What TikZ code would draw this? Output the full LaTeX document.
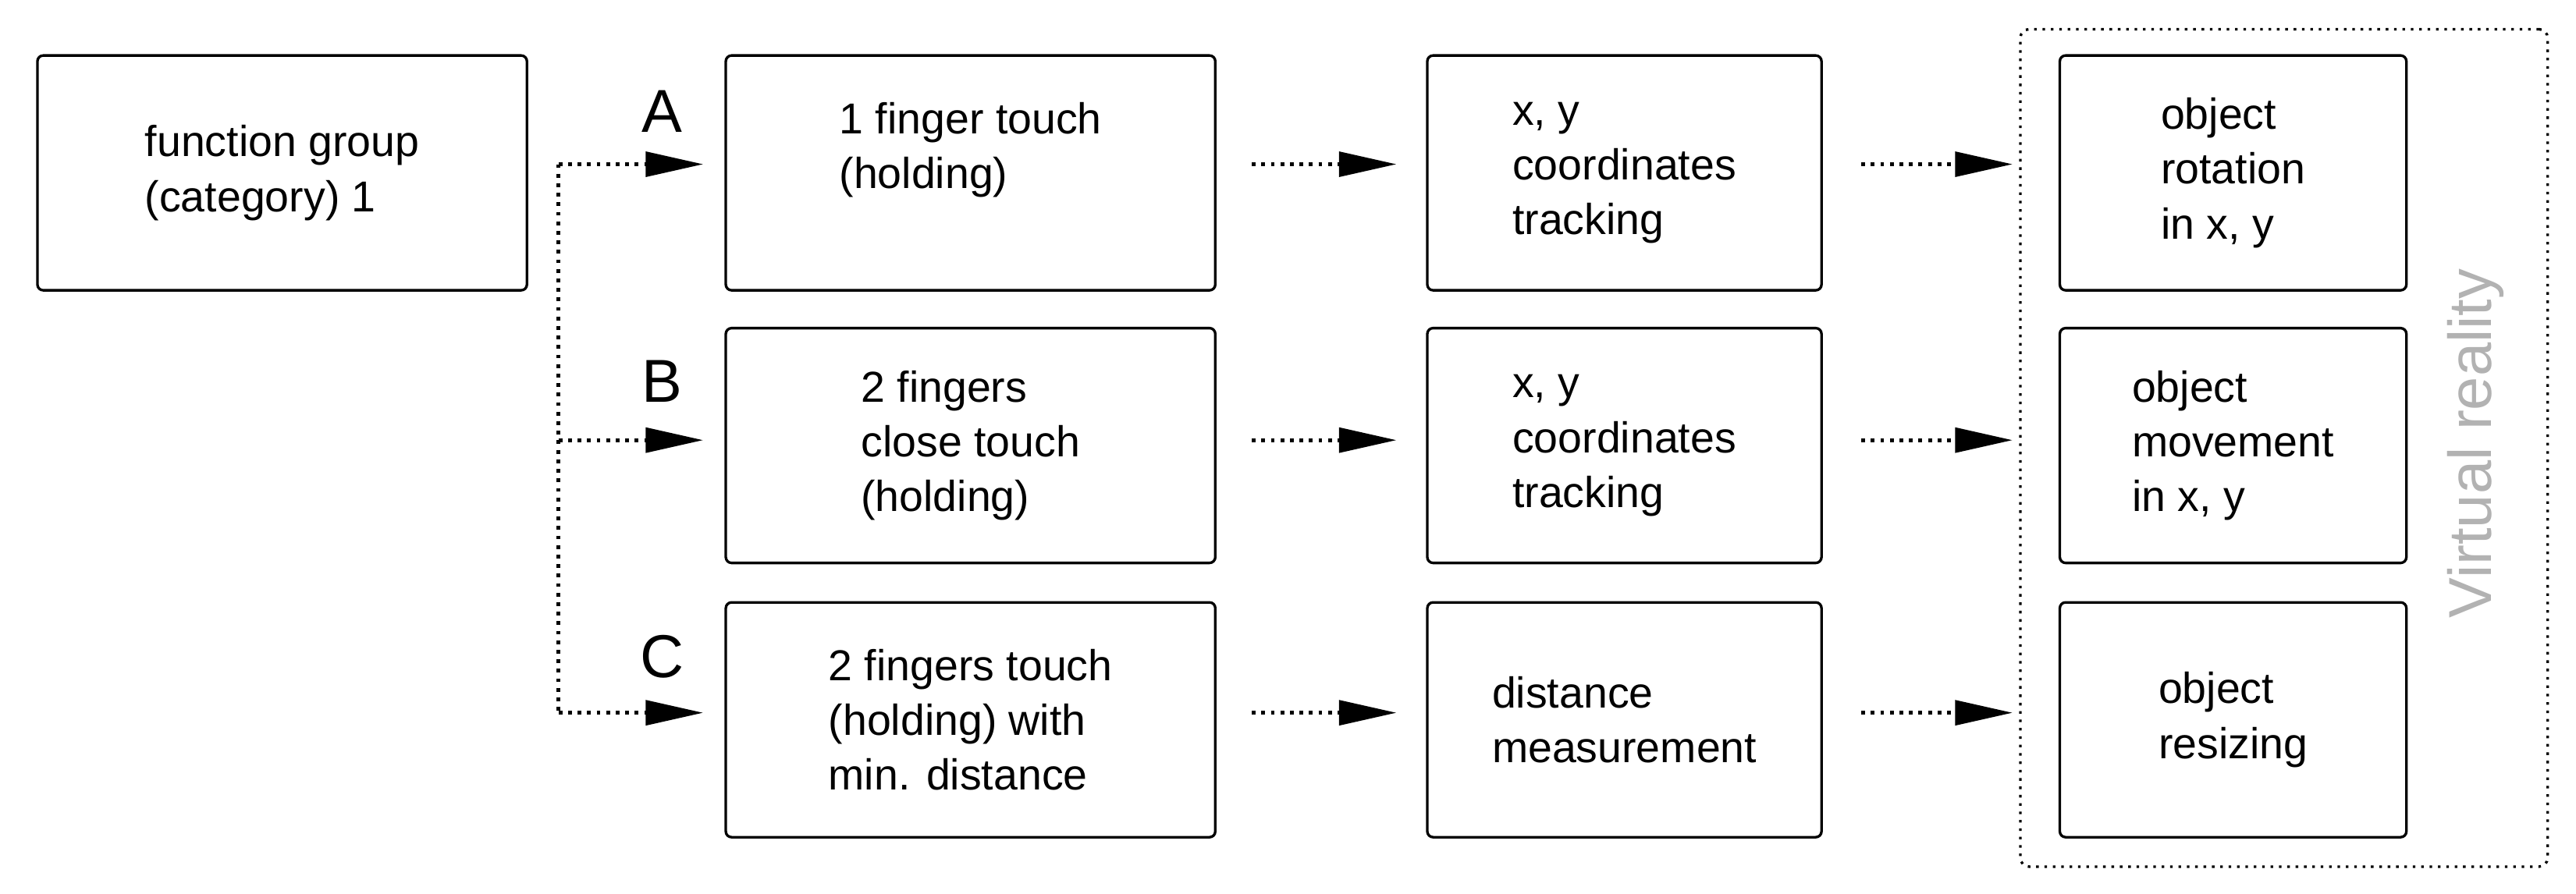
\documentclass[tikz,border=0pt]{standalone}
\usepackage{fontspec}
\setmainfont{Liberation Sans}
\usetikzlibrary{arrows.meta}
\begin{document}
\begin{tikzpicture}[x=0.02cm,y=-0.02cm,
  box/.style={draw,rounded corners=2pt,line width=0.9pt,font=\fontsize{15}{19}\selectfont,align=left,anchor=north west},
  conn/.style={line width=1.3pt,dotted,-{Triangle[length=0.7cm,width=0.3cm]},shorten >=0pt},
  lt/.style={font=\fontsize{21}{21}\selectfont}]
\useasboundingbox (0,0) rectangle (1568,544);
\node[box,minimum width=298\pgflinewidth*0+5.96cm,minimum height=2.86cm] (fg) at (22,33) {function group\\(category) 1};
\foreach \n/\y in {r1/33,r2/199,r3/366}{
  \node[box,minimum width=5.96cm,minimum height=2.86cm] (a\n) at (441,\y) {};
  \node[box,minimum width=4.8cm,minimum height=2.86cm] (b\n) at (868,\y) {};
  \node[box,minimum width=4.22cm,minimum height=2.86cm] (c\n) at (1253,\y) {};
}
\node[font=\fontsize{15}{19}\selectfont,align=left] at (ar1) {1 finger touch\\(holding)\\~};
\node[font=\fontsize{15}{19}\selectfont,align=left] at (ar2) {2 fingers\\close touch\\(holding)};
\node[font=\fontsize{15}{19}\selectfont,align=left] at (ar3) {2 fingers touch\\(holding) with\\min. distance};
\node[font=\fontsize{15}{19}\selectfont,align=left] at (br1) {x, y\\coordinates\\tracking};
\node[font=\fontsize{15}{19}\selectfont,align=left] at (br2) {x, y\\coordinates\\tracking};
\node[font=\fontsize{15}{19}\selectfont,align=left] at (br3) {distance\\measurement};
\node[font=\fontsize{15}{19}\selectfont,align=left] at (cr1) {object\\rotation\\in x, y};
\node[font=\fontsize{15}{19}\selectfont,align=left] at (cr2) {object\\movement\\in x, y};
\node[font=\fontsize{15}{19}\selectfont,align=left] at (cr3) {object\\resizing};
\node[draw,dotted,line width=0.9pt,rounded corners=3pt,anchor=north west,minimum width=6.42cm,minimum height=10.2cm] (vr) at (1229,17) {};
\node[rotate=90,text=gray!60,font=\fontsize{21}{21}\selectfont] (vrt) at (1507,270) {Virtual reality};
\node[lt] (la) at (403,68) {A};
\node[lt] (lb) at (403,232) {B};
\node[lt] (lc) at (403,400) {C};
\coordinate (t) at (340,100);
\coordinate (m) at (340,268);
\coordinate (bo) at (340,434);
\draw[line width=1.3pt,dotted] (t) -- (bo);
\draw[conn] (t) -- (428,100);
\draw[conn] (m) -- (428,268);
\draw[conn] (bo) -- (428,434);
\foreach \r/\y in {r1/100,r2/268,r3/434}{
  \draw[conn] (762,\y) -- (850,\y);
  \draw[conn] (1133,\y) -- (1225,\y);
}
\end{tikzpicture}
\end{document}
